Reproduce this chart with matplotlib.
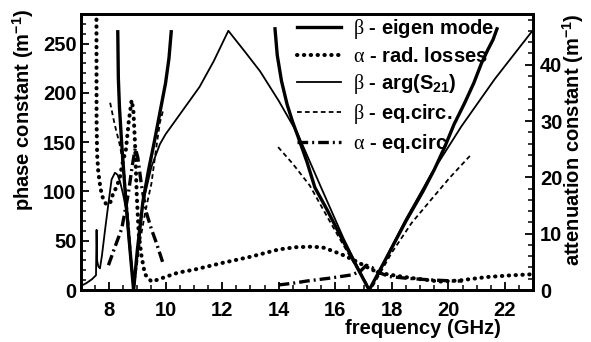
import matplotlib
matplotlib.use("Agg")
from matplotlib import pyplot as plt
from matplotlib.ticker import MultipleLocator

plt.rcParams['font.family'] = 'Liberation Sans'
plt.rcParams['font.weight'] = 'bold'
plt.rcParams['axes.labelweight'] = 'bold'
plt.rcParams['font.size'] = 14.5
plt.rcParams['mathtext.fontset'] = 'custom'
plt.rcParams['mathtext.rm'] = 'Liberation Sans:weight=bold'
plt.rcParams['mathtext.bf'] = 'Liberation Sans:weight=bold'
plt.rcParams['mathtext.it'] = 'Liberation Serif:weight=regular'

# beta - eigen mode (left axis), two branches
eig1_f = [8.31, 8.33, 8.37, 8.45, 8.57, 8.7, 8.8, 8.87, 9.0, 9.2, 9.4, 9.6, 9.8, 10.0, 10.12, 10.2]
eig1_b = [262, 215, 185, 148, 100, 55, 22, 0, 40, 90, 122, 150, 180, 210, 235, 262]
eig2_f = [13.87, 13.95, 14.1, 14.3, 14.5, 14.68, 15.0, 15.28, 15.7, 16.2, 16.7, 17.2,
          17.8, 18.5, 19.1, 19.5, 19.87, 20.2, 20.58, 20.9, 21.17, 21.4, 21.58, 21.72]
eig2_b = [265, 238, 212, 188, 170, 156, 130, 104, 82, 54, 27, 0,
          32, 70, 100, 122, 145, 168, 190, 210, 230, 244, 254, 265]

# beta - arg(S21) (left axis)
s21_f = [7.0, 7.2, 7.4, 7.54, 7.56, 7.58, 7.62, 7.68, 7.75, 7.86, 7.98, 8.09, 8.21, 8.3, 8.39,
         8.5, 8.6, 8.7, 8.87, 9.0, 9.2, 9.5, 9.8, 10.0, 10.5, 11.2, 11.7, 12.22,
         12.8, 13.34, 14.0, 14.68, 15.5, 16.3, 17.2,
         17.8, 18.5, 19.4, 20.46, 21.64, 23.0]
s21_b = [4, 7, 11, 15, 61, 30, 24, 22, 35, 61, 88, 112, 119, 117, 110,
         97, 82, 50, 0, 35, 88, 125, 148, 158, 178, 206, 232, 263,
         242, 222, 192, 158, 104, 52, 0,
         33, 72, 118, 166, 214, 264]

# alpha - rad. losses (right axis)
rad_f = [7.555, 7.56, 7.58, 7.62, 7.7, 7.8, 7.92, 8.05, 8.15, 8.27, 8.39, 8.45, 8.6, 8.7, 8.8,
         8.86, 8.92, 8.98, 9.05, 9.15, 9.27, 9.5, 9.7, 10.04, 10.45, 11.0, 12.0, 13.0, 14.0,
         14.6, 15.22, 15.6, 15.93, 16.28, 16.7, 17.0, 17.3, 17.6, 18.2, 18.75, 19.7, 20.4,
         21.35, 22.2, 23.0]
rad_a = [55, 30, 24, 21, 18, 16, 15.1, 15.6, 17.2, 18.3, 20.1, 21.9, 25, 30, 33.7,
         32, 26, 17, 10, 6, 2.8, 1.5, 1.8, 2.4, 3.1, 3.6, 4.8, 5.9, 7.2,
         7.6, 7.7, 7.5, 6.9, 6.2, 5.2, 4.4, 3.6, 3.0, 2.5, 2.1, 1.5, 1.7,
         2.3, 2.6, 2.8]

# beta - eq.circ. (left axis), two segments
eqb1_f = [8.04, 8.2, 8.4, 8.55, 8.7, 8.87, 9.1, 9.3, 9.5, 9.65, 9.8, 9.92]
eqb1_b = [190, 168, 145, 115, 65, 0, 50, 82, 108, 140, 170, 183]
eqb2_f = [13.98, 14.5, 15.1, 15.8, 16.5, 17.25, 18.0, 18.7, 19.4, 20.05, 20.76]
eqb2_b = [145, 128, 106, 70, 35, 0, 38, 68, 92, 114, 136]

# alpha - eq.circ (right axis), two segments
eqa1_f = [7.98, 8.2, 8.45, 8.68, 8.82, 8.93, 9.02, 9.15, 9.33, 9.5, 9.68, 9.92]
eqa1_a = [4.4, 7.5, 10.9, 17, 22, 25.2, 23.5, 18.5, 13.6, 10.8, 8.3, 4.6]
eqa2_f = [14.0, 14.5, 15.0, 15.8, 16.6, 16.9, 17.1, 17.3, 17.5, 17.9, 18.5, 19.35, 20.2, 20.5]
eqa2_a = [0.9, 1.2, 1.6, 2.1, 2.7, 3.4, 4.4, 4.0, 3.2, 2.4, 2.1, 1.8, 1.6, 1.6]

fig = plt.figure(figsize=(5.91, 3.42), dpi=100)
ax = fig.add_axes([0.1366, 0.152, 0.7656, 0.807])
ax2 = ax.twinx()

thick = dict(color='black', lw=2.4)
thin = dict(color='black', lw=1.3)
dots = dict(color='black', lw=2.9, linestyle=(0, (0.1, 1.6)), dash_capstyle='round')
dash = dict(color='black', lw=1.3, linestyle=(0, (2.6, 1.8)))
dashdot = dict(color='black', lw=2.4, linestyle=(0, (3.2, 1.2, 0.6, 1.2)))

h1, = ax.plot(eig1_f, eig1_b, **thick)
ax.plot(eig2_f, eig2_b, **thick)
h3, = ax.plot(s21_f, s21_b, **thin)
h4, = ax.plot(eqb1_f, eqb1_b, **dash)
ax.plot(eqb2_f, eqb2_b, **dash)
h2, = ax2.plot(rad_f, rad_a, **dots)
h5, = ax2.plot(eqa1_f, eqa1_a, **dashdot)
ax2.plot(eqa2_f, eqa2_a, **dashdot)

ax.set_xlim(7, 23)
ax.set_ylim(0, 280)
ax2.set_ylim(0, 49)

ax.xaxis.set_major_locator(MultipleLocator(2))
ax.xaxis.set_minor_locator(MultipleLocator(0.5))
ax.yaxis.set_major_locator(MultipleLocator(50))
ax.yaxis.set_minor_locator(MultipleLocator(10))
ax2.yaxis.set_major_locator(MultipleLocator(10))
ax2.yaxis.set_minor_locator(MultipleLocator(2))

ax.tick_params(axis='both', which='both', direction='in', top=False, right=False)
ax.tick_params(axis='x', which='major', length=6, width=1.3, pad=8)
ax.tick_params(axis='x', which='minor', length=3.5, width=1.1)
ax.tick_params(axis='y', which='major', length=6, width=1.3, pad=3)
ax.tick_params(axis='y', which='minor', length=3.5, width=1.1)
ax2.tick_params(axis='y', which='both', direction='in')
ax2.tick_params(axis='y', which='major', length=6, width=1.3, pad=5)
ax2.tick_params(axis='y', which='minor', length=3.5, width=1.1)
ax.set_xticks([8, 10, 12, 14, 16, 18, 20, 22])

for a in (ax, ax2):
    for s in a.spines.values():
        s.set_linewidth(2)

ax.set_ylabel('phase constant (m$^{\\mathbf{-1}}$)', fontweight='bold')
ax.yaxis.set_label_coords(-0.099, 0.652)
ax2.set_ylabel('attenuation constant (m$^{\\mathbf{-1}}$)', fontweight='bold')
ax2.yaxis.set_label_coords(1.062, 0.543)
ax.set_xlabel('frequency (GHz)', fontweight='bold')
ax.xaxis.set_label_coords(0.757, -0.105)

labels = ['$\\beta$ - eigen mode', '$\\alpha$ - rad. losses', '$\\beta$ - arg(S$_{\\mathbf{21}}$)',
          '$\\beta$ - eq.circ.', '$\\alpha$ - eq.circ']
ax2.legend([h1, h2, h3, h4, h5], labels, loc='upper left', bbox_to_anchor=(0.478, 0.99),
           frameon=False, borderpad=0, borderaxespad=0, handlelength=2.2,
           handletextpad=0.6, labelspacing=0.3)

fig.savefig('out.png', dpi=100)
